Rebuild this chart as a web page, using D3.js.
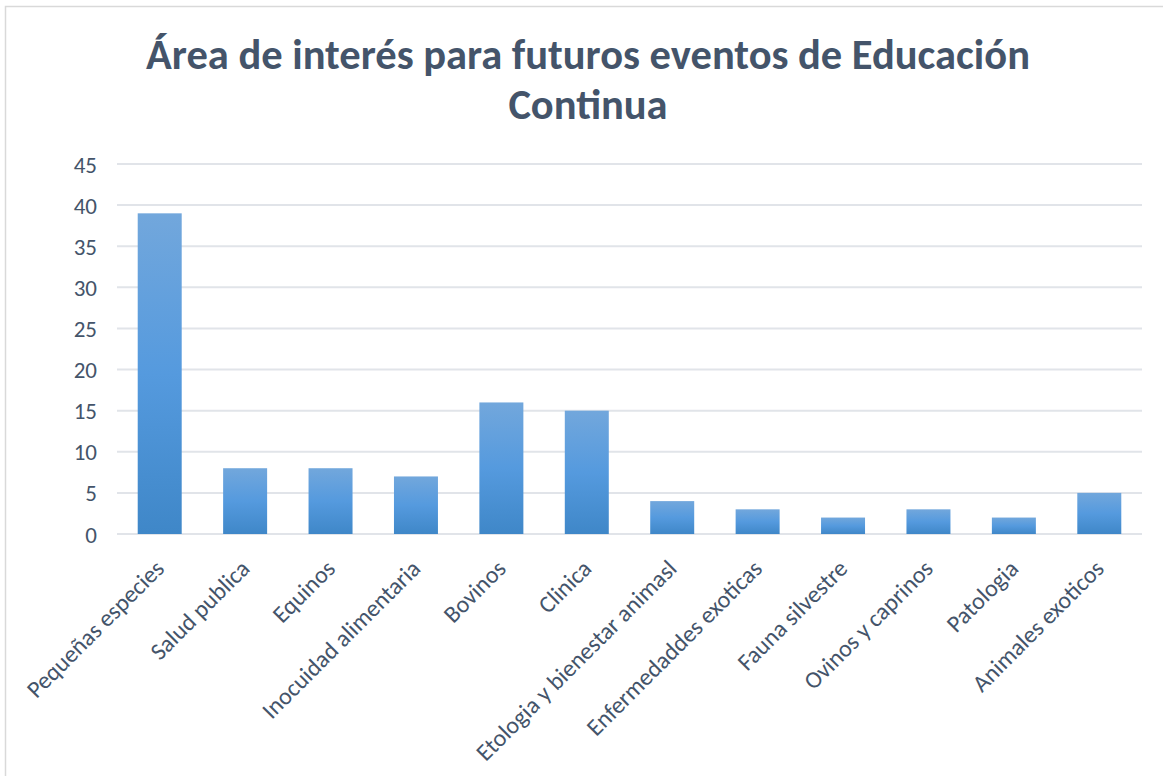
<!DOCTYPE html>
<html>
<head>
<meta charset="utf-8">
<script src="https://cdn.jsdelivr.net/npm/d3@7"></script>
<style>
  body { margin: 0; background: #fff; }
  svg { display: block; }
  text { font-family: Carlito, Lato, "Open Sans", sans-serif; fill: #44546a; }
</style>
</head>
<body>
<svg id="chart" width="1163" height="776"></svg>
<script>
// --- data ---
const categories = [
    "Pequeñas especies", "Salud publica", "Equinos", "Inocuidad alimentaria",
    "Bovinos", "Clinica", "Etologia y bienestar animasl", "Enfermedaddes exoticas",
    "Fauna silvestre", "Ovinos y caprinos", "Patologia", "Animales exoticos"
];
const values = [39, 8, 8, 7, 16, 15, 4, 3, 2, 3, 2, 5];
const yTicks = [0, 5, 10, 15, 20, 25, 30, 35, 40, 45];
const titleLines = ["Área de interés para futuros eventos de Educación", "Continua"];

const svg = d3.select("#chart");
const plot = { left: 117, right: 1142, top: 164, bottom: 534 };
const FONT = "Carlito, Lato, sans-serif";

// chart frame (cropped at right/bottom like the reference)
svg.append("rect")
    .attr("x", 5.5).attr("y", 6.5)
    .attr("width", 1200).attr("height", 800)
    .attr("fill", "#fff").attr("stroke", "#d9d9d9").attr("stroke-width", 1.5);

// gradient for bars
const grad = svg.append("defs").append("linearGradient")
    .attr("id", "barGrad").attr("x1", 0).attr("y1", 0).attr("x2", 0).attr("y2", 1);
grad.append("stop").attr("offset", "0%").attr("stop-color", "#72a7dc");
grad.append("stop").attr("offset", "50%").attr("stop-color", "#559ade");
grad.append("stop").attr("offset", "100%").attr("stop-color", "#3f87c8");

const x = d3.scaleBand().domain(categories).range([plot.left, plot.right]).paddingInner(0.485).paddingOuter(0.2425);
const y = d3.scaleLinear().domain([0, 45]).range([plot.bottom, plot.top]);

// gridlines
svg.append("g").selectAll("line").data(yTicks).enter().append("line")
    .attr("x1", plot.left).attr("x2", plot.right)
    .attr("y1", d => y(d)).attr("y2", d => y(d))
    .attr("stroke", "#e1e4e9").attr("stroke-width", 2);

// y axis labels
const yAxis = svg.append("g").attr("transform", `translate(${plot.left - 20},0)`)
    .call(d3.axisLeft(y).tickValues(yTicks).tickSize(0).tickPadding(0));
yAxis.select(".domain").remove();
yAxis.selectAll("text")
    .style("font-size", "23px").style("font-family", FONT).attr("fill", "#44546a")
    .attr("dy", "0.35em");

// bars
svg.append("g").selectAll("rect").data(values).enter().append("rect")
    .attr("x", (d, i) => x(categories[i]))
    .attr("y", d => y(d))
    .attr("width", x.bandwidth())
    .attr("height", d => y(0) - y(d))
    .attr("fill", "url(#barGrad)");

// x axis labels, rotated -45
const xAxis = svg.append("g").attr("transform", `translate(0,${plot.bottom})`)
    .call(d3.axisBottom(x).tickSize(0).tickPadding(0));
xAxis.select(".domain").remove();
xAxis.selectAll("text")
    .style("font-size", "24px").style("font-family", FONT).attr("fill", "#44546a")
    .attr("text-anchor", "end")
    .attr("y", 0).attr("dy", 0)
    .attr("transform", "translate(6,36) rotate(-45)");

// title
svg.append("g").selectAll("text").data(titleLines).enter().append("text")
    .attr("x", 588).attr("y", (d, i) => 69 + i * 50)
    .attr("text-anchor", "middle")
    .style("font-size", "42.5px").style("font-family", FONT).attr("font-weight", "bold")
    .attr("fill", "#44546a")
    .text(d => d);
</script>
</body>
</html>
